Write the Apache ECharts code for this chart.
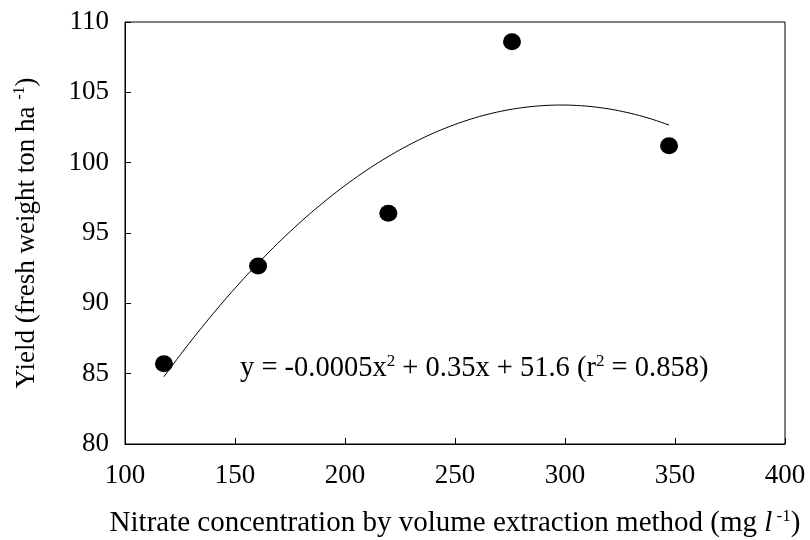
<!DOCTYPE html>
<html>
<head>
<meta charset="utf-8">
<script src="https://cdn.jsdelivr.net/npm/echarts@6/dist/echarts.min.js"></script>
<style>
  html, body { margin: 0; padding: 0; background: #fff; }
  #chart { width: 810px; height: 540px; }
</style>
</head>
<body>
<div id="chart"></div>
<script>
// Nitrate concentration (mg/l) and fresh-weight yield (ton/ha)
const nitrate = [117.7, 160.5, 219.7, 275.9, 347.3];
const yieldValues = [85.7, 92.65, 96.4, 108.6, 101.2];

const xTicks = { min: 100, max: 400, interval: 50 };
const yTicks = { min: 80, max: 110, interval: 5 };

const FONT = '"Liberation Serif", "Times New Roman", serif';

// Least-squares quadratic fit y = c0 + c1*x + c2*x^2
function quadFit(xs, ys) {
  const m = xs.reduce((a, b) => a + b, 0) / xs.length; // centre x for stability
  let S = [0, 0, 0, 0, 0], T = [0, 0, 0];
  xs.forEach((x, i) => {
    const u = x - m;
    for (let k = 0; k < 5; k++) S[k] += Math.pow(u, k);
    for (let k = 0; k < 3; k++) T[k] += ys[i] * Math.pow(u, k);
  });
  const M = [[S[0], S[1], S[2], T[0]], [S[1], S[2], S[3], T[1]], [S[2], S[3], S[4], T[2]]];
  for (let c = 0; c < 3; c++) {
    for (let r = c + 1; r < 3; r++) {
      const f = M[r][c] / M[c][c];
      for (let k = c; k < 4; k++) M[r][k] -= f * M[c][k];
    }
  }
  const b = [0, 0, 0];
  for (let r = 2; r >= 0; r--) {
    let s = M[r][3];
    for (let k = r + 1; k < 3; k++) s -= M[r][k] * b[k];
    b[r] = s / M[r][r];
  }
  return x => b[0] + b[1] * (x - m) + b[2] * (x - m) * (x - m);
}

const fit = quadFit(nitrate, yieldValues);
const xLo = Math.min(...nitrate), xHi = Math.max(...nitrate);
const fitLine = [];
for (let i = 0; i <= 120; i++) {
  const x = xLo + (xHi - xLo) * i / 120;
  fitLine.push([x, fit(x)]);
}

const points = nitrate.map((x, i) => [x, yieldValues[i]]);

const tickText = { fontFamily: FONT, fontSize: 27, color: '#000' };
const text = size => ({ fontFamily: FONT, fontSize: size, color: '#000' });
const sup = size => ({ fontFamily: FONT, fontSize: size, color: '#000', verticalAlign: 'top', padding: [0, 0, 14, 0] });

const chart = echarts.init(document.getElementById('chart'), null, { renderer: 'canvas' });
chart.setOption({
  animation: false,
  backgroundColor: '#fff',
  grid: {
    left: 125, right: 25, top: 22, bottom: 96,
    outerBoundsMode: 'none', containLabel: false,
    show: true, borderColor: '#000', borderWidth: 1, backgroundColor: 'transparent'
  },
  xAxis: {
    type: 'value',
    min: xTicks.min, max: xTicks.max, interval: xTicks.interval,
    axisLine: { show: true, lineStyle: { color: '#000', width: 1 } },
    axisTick: { show: true, inside: true, length: 6, lineStyle: { color: '#000' } },
    axisLabel: { ...tickText, margin: 18 },
    splitLine: { show: false },
    name: '{a|Nitrate concentration by volume extraction method (mg }{i|l}{s| -1}{a|)}',
    nameLocation: 'middle',
    nameGap: 64,
    nameTextStyle: {
      rich: {
        a: text(29),
        i: { ...text(29), fontStyle: 'italic' },
        s: sup(17)
      }
    }
  },
  yAxis: {
    type: 'value',
    min: yTicks.min, max: yTicks.max, interval: yTicks.interval,
    axisLine: { show: true, lineStyle: { color: '#000', width: 1 } },
    axisTick: { show: true, inside: true, length: 6, lineStyle: { color: '#000' } },
    axisLabel: { ...tickText, margin: 16 },
    splitLine: { show: false },
    name: '{a|Yield (fresh weight ton ha }{s|-1}{a|)}',
    nameLocation: 'middle',
    nameGap: 83,
    nameRotate: 90,
    nameTextStyle: {
      rich: { a: text(27), s: sup(16) }
    }
  },
  series: [
    {
      type: 'line',
      data: fitLine,
      showSymbol: false,
      smooth: false,
      lineStyle: { color: '#000', width: 1 },
      z: 2
    },
    {
      type: 'scatter',
      data: points,
      symbol: 'circle',
      symbolSize: [18, 17],
      itemStyle: { color: '#000', opacity: 1 },
      z: 3
    }
  ],
  graphic: [
    {
      type: 'text',
      left: 240,
      top: 353,
      style: {
        text: '{t|y = -0.0005x}{s|2}{t| + 0.35x + 51.6 (r}{s|2}{t| = 0.858)}',
        rich: { t: text(28.5), s: sup(17) }
      }
    }
  ]
});
</script>
</body>
</html>
